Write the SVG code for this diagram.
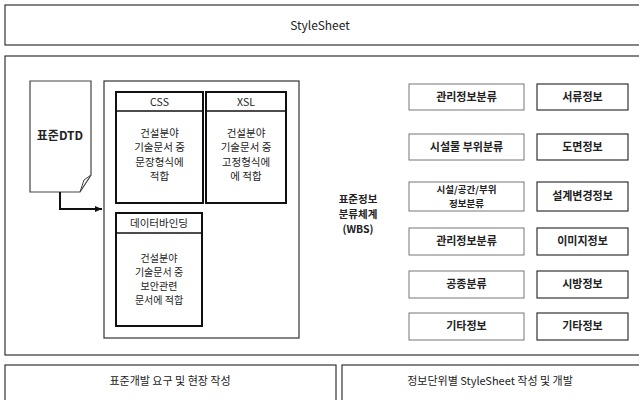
<svg xmlns="http://www.w3.org/2000/svg" width="639" height="400" viewBox="0 0 639 400">
<defs>
<style>
text{font-family:"Noto Sans CJK KR","Liberation Sans",sans-serif;fill:#222;text-anchor:middle}
.frame{fill:#fff;stroke:#333;stroke-width:1.2}
.thick{fill:#fff;stroke:#111;stroke-width:2}
.cls{fill:#fff;stroke:#777;stroke-width:1}
.info{fill:#fff;stroke:#333;stroke-width:1.2}
.lbl{font-size:11px;font-weight:bold}
.body{font-size:10.5px}
.db{font-size:10px}
.wbs{font-size:10.5px;font-weight:bold}
</style>
<marker id="arr" markerWidth="8" markerHeight="8" refX="7" refY="4" orient="auto" markerUnits="userSpaceOnUse">
<path d="M0,1 L7,4 L0,7 Z" fill="#111"/>
</marker>
</defs>
<rect width="639" height="400" fill="#fff"/>

<g id="stylesheet">
<rect class="frame" x="5" y="5" width="640" height="40"/>
<text x="320" y="30" style="font-size:12px">StyleSheet</text>
</g>

<g id="main">
<rect class="frame" x="5" y="56" width="640" height="299"/>
</g>

<g id="dtd">
<path d="M30,81 L91,81 L91,175 L80,192 L30,192 Z" fill="#fff" stroke="#444" stroke-width="1.2"/>
<path d="M91,175 L84,180 L80,192" fill="none" stroke="#444" stroke-width="1"/>
<text x="60" y="140" style="font-size:12px;font-weight:bold">표준DTD</text>
</g>

<g id="container">
<rect class="frame" x="104" y="81" width="195" height="257"/>
</g>

<g id="css">
<rect class="thick" x="116" y="92" width="87" height="111"/>
<line x1="116" y1="111" x2="203" y2="111" stroke="#111" stroke-width="1.5"/>
<text class="body" x="159.5" y="106">CSS</text>
<text class="body" x="159.5" y="137">건설분야</text>
<text class="body" x="159.5" y="151">기술문서 중</text>
<text class="body" x="159.5" y="166">문장형식에</text>
<text class="body" x="159.5" y="180">적합</text>
</g>

<g id="xsl">
<rect class="thick" x="206" y="92" width="80" height="111"/>
<line x1="206" y1="111" x2="286" y2="111" stroke="#111" stroke-width="1.5"/>
<text class="body" x="246" y="106">XSL</text>
<text class="body" x="246" y="137">건설분야</text>
<text class="body" x="246" y="151">기술문서 중</text>
<text class="body" x="246" y="166">고정형식에</text>
<text class="body" x="246" y="180">에 적합</text>
</g>

<g id="databinding">
<rect class="thick" x="116" y="213" width="86" height="113"/>
<line x1="116" y1="233" x2="202" y2="233" stroke="#111" stroke-width="1.5"/>
<text class="body" x="159" y="227">데이터바인딩</text>
<text class="db" x="159" y="262">건설분야</text>
<text class="db" x="159" y="276">기술문서 중</text>
<text class="db" x="159" y="290">보안관련</text>
<text class="db" x="159" y="304">문서에 적합</text>
</g>

<g id="wbs">
<text class="wbs" x="358" y="203">표준정보</text>
<text class="wbs" x="358" y="218">분류체계</text>
<text class="wbs" x="358" y="233">(WBS)</text>
</g>

<g id="c1"><rect class="cls" x="409" y="84" width="115" height="26"/><text class="lbl" x="466.5" y="101">관리정보분류</text></g>
<g id="c2"><rect class="cls" x="409" y="134" width="115" height="26"/><text class="lbl" x="466.5" y="151">시설물 부위분류</text></g>
<g id="c3"><rect class="cls" x="409" y="182" width="115" height="29"/><text class="lbl" x="466.5" y="193" style="font-size:9.5px">시설/공간/부위</text><text class="lbl" x="466.5" y="206.5" style="font-size:9.5px">정보분류</text></g>
<g id="c4"><rect class="cls" x="409" y="228" width="115" height="27"/><text class="lbl" x="466.5" y="245">관리정보분류</text></g>
<g id="c5"><rect class="cls" x="409" y="271" width="115" height="27"/><text class="lbl" x="466.5" y="288">공종분류</text></g>
<g id="c6"><rect class="cls" x="409" y="313" width="115" height="27"/><text class="lbl" x="466.5" y="330">기타정보</text></g>

<g id="i1"><rect class="info" x="537" y="84" width="91" height="26"/><text class="lbl" x="582.5" y="101">서류정보</text></g>
<g id="i2"><rect class="info" x="537" y="134" width="91" height="26"/><text class="lbl" x="582.5" y="151">도면정보</text></g>
<g id="i3"><rect class="info" x="537" y="182" width="91" height="29"/><text class="lbl" x="582.5" y="200">설계변경정보</text></g>
<g id="i4"><rect class="info" x="537" y="228" width="91" height="27"/><text class="lbl" x="582.5" y="245">이미지정보</text></g>
<g id="i5"><rect class="info" x="537" y="271" width="91" height="27"/><text class="lbl" x="582.5" y="288">시방정보</text></g>
<g id="i6"><rect class="info" x="537" y="313" width="91" height="27"/><text class="lbl" x="582.5" y="330">기타정보</text></g>

<g id="bottom-left">
<rect class="frame" x="5" y="365" width="331" height="45"/>
<text x="170" y="385" style="font-size:11px">표준개발 요구 및 현장 작성</text>
</g>
<g id="bottom-right">
<rect class="frame" x="342" y="365" width="305" height="45"/>
<text x="490" y="385" style="font-size:11px">정보단위별 StyleSheet 작성 및 개발</text>
</g>

<g id="connectors">
<path d="M60,192 L60,209 L102,209" fill="none" stroke="#111" stroke-width="2" marker-end="url(#arr)"/>
</g>
</svg>
